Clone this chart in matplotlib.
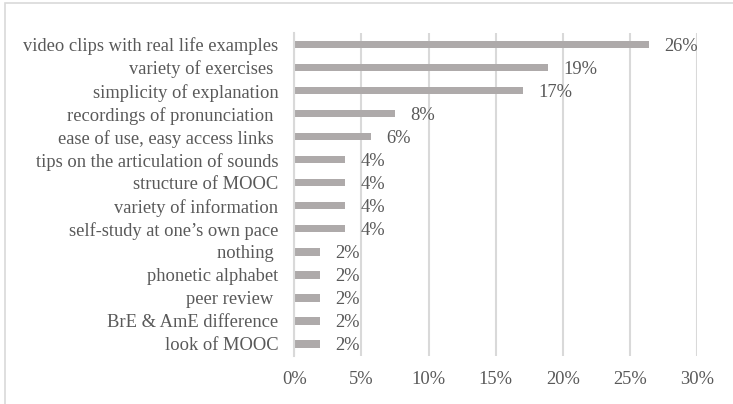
import matplotlib
matplotlib.use("Agg")
import matplotlib.pyplot as plt
from matplotlib.patches import Rectangle

categories = [
    "video clips with real life examples",
    "variety of exercises ",
    "simplicity of explanation",
    "recordings of pronunciation ",
    "ease of use, easy access links ",
    "tips on the articulation of sounds",
    "structure of MOOC",
    "variety of information",
    "self-study at one\u2019s own pace",
    "nothing ",
    "phonetic alphabet",
    "peer review ",
    "BrE & AmE difference",
    "look of MOOC",
]
values = [26.4, 18.9, 17.0, 7.5, 5.7, 3.8, 3.8, 3.8, 3.8, 1.9, 1.9, 1.9, 1.9, 1.9]
value_labels = ["26%", "19%", "17%", "8%", "6%", "4%", "4%", "4%", "4%",
                "2%", "2%", "2%", "2%", "2%"]
xticks = [0, 5, 10, 15, 20, 25, 30]
xtick_labels = ["0%", "5%", "10%", "15%", "20%", "25%", "30%"]

W, H = 733, 404
plt.rcParams['font.family'] = ['Liberation Serif', 'DejaVu Serif']
text_color = "#595959"
grid_color = "#D9D9D9"
bar_color = "#AEAAAA"
fs = 13.3

fig = plt.figure(figsize=(W / 100, H / 100), dpi=100)
left, right, top, bottom = 294.3, 697.3, 33, 355.5
ax = fig.add_axes([left / W, 1 - bottom / H, (right - left) / W, (bottom - top) / H])

n = len(categories)
ypos = list(range(n))
ax.barh(ypos, values, height=0.32, color=bar_color, zorder=3)
ax.set_ylim(n - 0.5, -0.5)
ax.set_xlim(0, 30)

for y, v, lab in zip(ypos, values, value_labels):
    ax.annotate(lab, xy=(v, y), xytext=(15.5 * 72 / 100, -2 * 72 / 100),
                textcoords="offset points",
                ha="left", va="center", fontsize=fs, color=text_color, zorder=4)

ax.set_yticks(ypos)
ax.set_yticklabels(categories, fontsize=fs, color=text_color)
ax.set_xticks(xticks)
ax.set_xticklabels(xtick_labels, fontsize=fs, color=text_color)
ax.tick_params(axis="both", length=0)
ax.tick_params(axis="y", pad=11.5)
ax.tick_params(axis="x", pad=11)

ax.xaxis.grid(True, color=grid_color, linewidth=1.5, zorder=0)
ax.yaxis.grid(False)
for s in ["top", "right", "bottom"]:
    ax.spines[s].set_visible(False)
ax.spines["left"].set_color(grid_color)
ax.spines["left"].set_linewidth(1.5)
ax.spines["left"].set_zorder(5)

# outer chart border (cropped on right and bottom)
fig.patches.append(Rectangle((4.5 / W, -0.1), 1.2, 1.1 - 2.7 / H,
                             transform=fig.transFigure, fill=False,
                             edgecolor=grid_color, linewidth=1.2))

fig.savefig("out.png", dpi=100)
